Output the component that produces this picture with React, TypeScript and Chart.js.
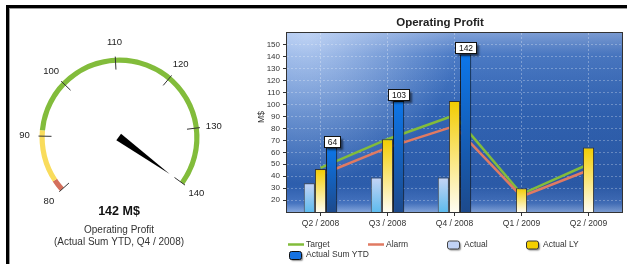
import React, { useEffect, useRef } from 'react';
import { Chart, registerables } from 'chart.js';

Chart.register(...registerables);

// ---------- data ----------
const categories = ['Q2 / 2008', 'Q3 / 2008', 'Q4 / 2008', 'Q1 / 2009', 'Q2 / 2009'];
const target = [47, 71, 91, 25, 50];
const alarm = [41, 64, 82, 23, 45];
const actual = [34, 39, 39, null, null];
const actualLY = [46, 71, 103, 30, 64];
const actualSumYTD = [64, 103, 142, null, null];

const yTickValues = [20, 30, 40, 50, 60, 70, 80, 90, 100, 110, 120, 130, 140, 150];
const gaugeTicks = [80, 90, 100, 110, 120, 130, 140];
const gaugeIndex = 2; // Q4 / 2008
const gaugeMin = 80;
const gaugeMax = 140;
const gaugeValue = actualSumYTD[gaugeIndex] as number;
const gaugeAlarm = alarm[gaugeIndex];
const gaugeTarget = target[gaugeIndex];

const chartTitle = 'Operating Profit';
const yTitle = 'M$';
const gaugeCaption1 = 'Operating Profit';
const gaugeCaption2 = '(Actual Sum YTD, Q4 / 2008)';

const FONT = '"Liberation Sans", Arial, sans-serif';
const GREEN = '#82bc3b';
const RED = '#e07a62';
const YELLOW = '#f9dc5c';
const GAUGE_RED = '#d4705c';

// ---------- gauge ----------
function Gauge() {
  const ref = useRef<HTMLCanvasElement>(null);
  useEffect(() => {
    const canvas = ref.current!;
    const START = -132;
    const SPAN = 258;
    const degPerUnit = SPAN / (gaugeMax - gaugeMin);
    const gap = (360 - SPAN) / degPerUnit;
    const angleOf = (v: number) => ((START + (v - gaugeMin) * degPerUnit) * Math.PI) / 180;

    const decor = {
      id: 'gaugeDecor',
      afterDraw(chart: any) {
        const ctx = chart.ctx as CanvasRenderingContext2D;
        const arc = chart.getDatasetMeta(0).data[0] as any;
        const cx = arc.x;
        const cy = arc.y;
        const R = arc.outerRadius;
        ctx.save();
        // ticks
        ctx.strokeStyle = '#333';
        ctx.lineWidth = 1;
        gaugeTicks.forEach((v) => {
          const a = angleOf(v);
          const s = Math.sin(a);
          const c = Math.cos(a);
          ctx.beginPath();
          ctx.moveTo(cx + (R + 1) * s, cy - (R + 1) * c);
          ctx.lineTo(cx + (R - 12) * s, cy - (R - 12) * c);
          ctx.stroke();
        });
        // labels
        ctx.fillStyle = '#222';
        ctx.font = `9.5px ${FONT}`;
        ctx.textAlign = 'center';
        ctx.textBaseline = 'middle';
        gaugeTicks.forEach((v) => {
          const a = angleOf(v);
          const r = R + 15;
          ctx.fillText(String(v), cx + r * Math.sin(a), cy - r * Math.cos(a));
        });
        // needle
        const nv = Math.max(gaugeMin, Math.min(gaugeMax, gaugeValue));
        const a = angleOf(nv);
        const dx = Math.sin(a);
        const dy = -Math.cos(a);
        const px = -dy;
        const py = dx;
        const L = 62;
        const W = 4;
        ctx.fillStyle = '#000';
        ctx.beginPath();
        ctx.moveTo(cx - dx * 1 + px * W, cy - dy * 1 + py * W);
        ctx.lineTo(cx + dx * L, cy + dy * L);
        ctx.lineTo(cx - dx * 1 - px * W, cy - dy * 1 - py * W);
        ctx.closePath();
        ctx.fill();
        // captions
        ctx.textBaseline = 'alphabetic';
        ctx.fillStyle = '#111';
        ctx.font = `bold 12.5px ${FONT}`;
        ctx.fillText(`${gaugeValue} M$`, 119, 215);
        ctx.fillStyle = '#333';
        ctx.font = `10px ${FONT}`;
        ctx.fillText(gaugeCaption1, 119, 233);
        ctx.fillText(gaugeCaption2, 119, 245);
        ctx.restore();
      },
    };

    const chart = new Chart(canvas, {
      type: 'doughnut',
      data: {
        labels: ['Alarm', 'Warning', 'OK', ''],
        datasets: [
          {
            data: [gaugeAlarm - gaugeMin, gaugeTarget - gaugeAlarm, gaugeMax - gaugeTarget, gap],
            backgroundColor: [GAUGE_RED, YELLOW, GREEN, 'rgba(0,0,0,0)'],
            borderWidth: 0,
          },
        ],
      },
      options: {
        responsive: false,
        animation: false,
        events: [],
        rotation: START,
        circumference: 360,
        cutout: '93.5%',
        layout: { padding: { left: 39.5, top: 57.5, right: 40.5, bottom: 46.5 } },
        plugins: { legend: { display: false }, tooltip: { enabled: false } },
      } as any,
      plugins: [decor],
    });
    return () => chart.destroy();
  }, []);
  return (
    <canvas
      ref={ref}
      width={240}
      height={264}
      style={{ position: 'absolute', left: 0, top: 0, width: 240, height: 264 }}
    />
  );
}

// ---------- bar chart ----------
const OX = 240;

function vGrad(c0: string, c1: string) {
  return (ctx: any) => {
    const chart = ctx.chart;
    const area = chart.chartArea;
    if (!area || ctx.raw == null || !chart.scales.y) return c0;
    const y = chart.scales.y.getPixelForValue(ctx.raw);
    const g = chart.ctx.createLinearGradient(0, y, 0, area.bottom);
    g.addColorStop(0, c0);
    g.addColorStop(1, c1);
    return g;
  };
}

function roundRect(ctx: CanvasRenderingContext2D, x: number, y: number, w: number, h: number, r: number) {
  ctx.beginPath();
  ctx.moveTo(x + r, y);
  ctx.lineTo(x + w - r, y);
  ctx.quadraticCurveTo(x + w, y, x + w, y + r);
  ctx.lineTo(x + w, y + h - r);
  ctx.quadraticCurveTo(x + w, y + h, x + w - r, y + h);
  ctx.lineTo(x + r, y + h);
  ctx.quadraticCurveTo(x, y + h, x, y + h - r);
  ctx.lineTo(x, y + r);
  ctx.quadraticCurveTo(x, y, x + r, y);
  ctx.closePath();
}

function BarChart() {
  const ref = useRef<HTMLCanvasElement>(null);
  useEffect(() => {
    const canvas = ref.current!;

    const deco = {
      id: 'deco',
      beforeDraw(chart: any) {
        const { ctx, chartArea: a } = chart;
        const w = a.right - a.left;
        const h = a.bottom - a.top;
        ctx.save();
        const g = ctx.createLinearGradient(0, a.top, 0, a.bottom);
        g.addColorStop(0, '#86a8e0');
        g.addColorStop(0.12, '#4f80cc');
        g.addColorStop(0.45, '#3367b8');
        g.addColorStop(0.85, '#2d5ead');
        g.addColorStop(0.95, '#4674c0');
        g.addColorStop(1, '#86a8de');
        ctx.fillStyle = g;
        ctx.fillRect(a.left, a.top, w, h);
        const rg = ctx.createRadialGradient(a.left + 20, a.top, 0, a.left + 20, a.top, 150);
        rg.addColorStop(0, 'rgba(205,222,250,0.8)');
        rg.addColorStop(1, 'rgba(205,222,250,0)');
        ctx.fillStyle = rg;
        ctx.fillRect(a.left, a.top, w, h);
        const hg = ctx.createLinearGradient(a.left, 0, a.right, 0);
        hg.addColorStop(0, 'rgba(20,40,90,0)');
        hg.addColorStop(1, 'rgba(20,40,90,0.12)');
        ctx.fillStyle = hg;
        ctx.fillRect(a.left, a.top, w, h);
        ctx.restore();
      },
      afterDatasetsDraw(chart: any) {
        const { ctx, chartArea: a } = chart;
        ctx.save();
        // plot border
        ctx.strokeStyle = '#333';
        ctx.lineWidth = 1;
        ctx.strokeRect(Math.round(a.left) - 0.5, Math.round(a.top) - 0.5, a.right - a.left + 1, a.bottom - a.top + 1);
        // data labels on Actual Sum YTD
        const meta = chart.getDatasetMeta(4);
        ctx.font = `8.5px ${FONT}`;
        ctx.textAlign = 'center';
        ctx.textBaseline = 'middle';
        meta.data.forEach((el: any, i: number) => {
          const v = actualSumYTD[i];
          if (v == null) return;
          const txt = String(v);
          const tw = ctx.measureText(txt).width;
          const bw = Math.round(tw + 7);
          const bh = 11;
          const bx = Math.round(el.x - bw / 2) + 0.5;
          const by = Math.round(el.y - bh - 1) + 0.5;
          ctx.save();
          ctx.shadowColor = 'rgba(0,0,0,0.55)';
          ctx.shadowOffsetX = 2;
          ctx.shadowOffsetY = 2;
          ctx.shadowBlur = 2;
          ctx.fillStyle = '#fff';
          ctx.fillRect(bx, by, bw, bh);
          ctx.restore();
          ctx.strokeStyle = '#111';
          ctx.strokeRect(bx, by, bw, bh);
          ctx.fillStyle = '#111';
          ctx.fillText(txt, bx + bw / 2, by + bh / 2 + 0.5);
        });
        ctx.restore();
      },
      afterDraw(chart: any) {
        const ctx = chart.ctx as CanvasRenderingContext2D;
        ctx.save();
        // title
        ctx.fillStyle = '#222';
        ctx.font = `bold 11.5px ${FONT}`;
        ctx.textAlign = 'center';
        ctx.textBaseline = 'alphabetic';
        ctx.fillText(chartTitle, 440 - OX, 25.5);
        // y title
        ctx.save();
        ctx.translate(262 - OX, 117);
        ctx.rotate(-Math.PI / 2);
        ctx.font = `8.5px ${FONT}`;
        ctx.fillStyle = '#333';
        ctx.textBaseline = 'middle';
        ctx.fillText(yTitle, 0, 0);
        ctx.restore();
        // legend
        ctx.font = `8.5px ${FONT}`;
        ctx.textAlign = 'left';
        ctx.textBaseline = 'middle';
        const row1 = 244.5;
        const row2 = 255;
        const lineItem = (x0: number, x1: number, y: number, color: string, tx: number, label: string) => {
          ctx.strokeStyle = color;
          ctx.lineWidth = 2.5;
          ctx.beginPath();
          ctx.moveTo(x0 - OX, y);
          ctx.lineTo(x1 - OX, y);
          ctx.stroke();
          ctx.fillStyle = '#333';
          ctx.fillText(label, tx - OX, y);
        };
        const boxItem = (x: number, y: number, fill: string, border: string, tx: number, label: string) => {
          ctx.save();
          ctx.shadowColor = 'rgba(0,0,0,0.45)';
          ctx.shadowOffsetX = 1.5;
          ctx.shadowOffsetY = 1.5;
          ctx.shadowBlur = 1.5;
          roundRect(ctx, x - OX + 0.5, y - 4 + 0.5, 12, 8, 2);
          ctx.fillStyle = fill;
          ctx.fill();
          ctx.restore();
          roundRect(ctx, x - OX + 0.5, y - 4 + 0.5, 12, 8, 2);
          ctx.strokeStyle = border;
          ctx.lineWidth = 1;
          ctx.stroke();
          ctx.fillStyle = '#333';
          ctx.fillText(label, tx - OX, y);
        };
        lineItem(288, 304, row1, GREEN, 306, 'Target');
        lineItem(368, 384, row1, RED, 386, 'Alarm');
        boxItem(447, row1, '#c2d3f5', '#444', 464, 'Actual');
        boxItem(526, row1, '#f3cf00', '#333', 543, 'Actual LY');
        boxItem(289, row2, '#1672e2', '#111', 306, 'Actual Sum YTD');
        ctx.restore();
      },
    };

    const hideEnds = (c: any) => {
      const v = c.tick && c.tick.value;
      return v === 10 || v === 160;
    };

    const chart = new Chart(canvas, {
      type: 'bar',
      data: {
        labels: categories,
        datasets: [
          {
            type: 'line',
            label: 'Target',
            data: target,
            borderColor: GREEN,
            borderWidth: 2.5,
            pointRadius: 0,
            tension: 0,
            order: 5,
          } as any,
          {
            type: 'line',
            label: 'Alarm',
            data: alarm,
            borderColor: RED,
            borderWidth: 2.5,
            pointRadius: 0,
            tension: 0,
            order: 4,
          } as any,
          {
            label: 'Actual',
            data: actual,
            backgroundColor: vGrad('#c6d4f5', '#5ebbee'),
            borderColor: '#4a4a4a',
            borderWidth: 1,
            order: 1,
          },
          {
            label: 'Actual LY',
            data: actualLY,
            backgroundColor: vGrad('#f2cc00', '#fffdf2'),
            borderColor: '#333',
            borderWidth: 1,
            order: 1,
          },
          {
            label: 'Actual Sum YTD',
            data: actualSumYTD,
            backgroundColor: vGrad('#0c76ea', '#1d4a8c'),
            borderColor: '#111',
            borderWidth: 1,
            order: 1,
          },
        ],
      },
      options: {
        responsive: false,
        animation: false,
        events: [],
        categoryPercentage: 0.5,
        barPercentage: 1,
        layout: { padding: { top: 33, right: 5, left: 0, bottom: 0 } },
        plugins: { legend: { display: false }, tooltip: { enabled: false }, title: { display: false } },
        scales: {
          x: {
            offset: true,
            grid: {
              offset: false,
              color: 'rgba(255,255,255,0.3)',
              tickColor: '#333',
              tickLength: 4,
            },
            border: { display: false, dash: [2, 2] },
            ticks: {
              color: '#333',
              font: { family: FONT, size: 8.5 },
              padding: 3,
              maxRotation: 0,
              autoSkip: false,
            },
            afterFit: (s: any) => {
              s.height = 52;
            },
          },
          y: {
            min: 10,
            max: 160,
            afterBuildTicks: (s: any) => {
              s.ticks = [10, ...yTickValues, 160].map((v) => ({ value: v }));
            },
            ticks: {
              color: '#333',
              font: { family: FONT, size: 8 },
              padding: 3,
              autoSkip: false,
              callback: (v: any) => (yTickValues.includes(v) ? String(v) : ''),
            },
            grid: {
              color: (c: any) => (hideEnds(c) ? 'rgba(0,0,0,0)' : 'rgba(255,255,255,0.28)'),
              tickColor: (c: any) => (hideEnds(c) ? 'rgba(0,0,0,0)' : '#333'),
              tickLength: 4,
            },
            border: { display: false, dash: [2, 2] },
            afterFit: (s: any) => {
              s.width = 47;
            },
          },
        },
      } as any,
      plugins: [deco],
    });
    return () => chart.destroy();
  }, []);
  return (
    <canvas
      ref={ref}
      width={387}
      height={264}
      style={{ position: 'absolute', left: OX, top: 0, width: 387, height: 264 }}
    />
  );
}

export default function App() {
  return (
    <div
      style={{
        position: 'absolute',
        left: 0,
        top: 0,
        width: 627,
        height: 264,
        overflow: 'hidden',
        background: '#fff',
        fontFamily: FONT,
      }}
    >
      <Gauge />
      <BarChart />
      <div
        style={{
          position: 'absolute',
          left: 6,
          top: 5,
          width: 640,
          height: 280,
          borderTop: '3px solid #000',
          borderLeft: '3px solid #000',
          boxShadow: 'inset 1px 1px 0 #9a9a9a',
          pointerEvents: 'none',
        }}
      />
    </div>
  );
}
